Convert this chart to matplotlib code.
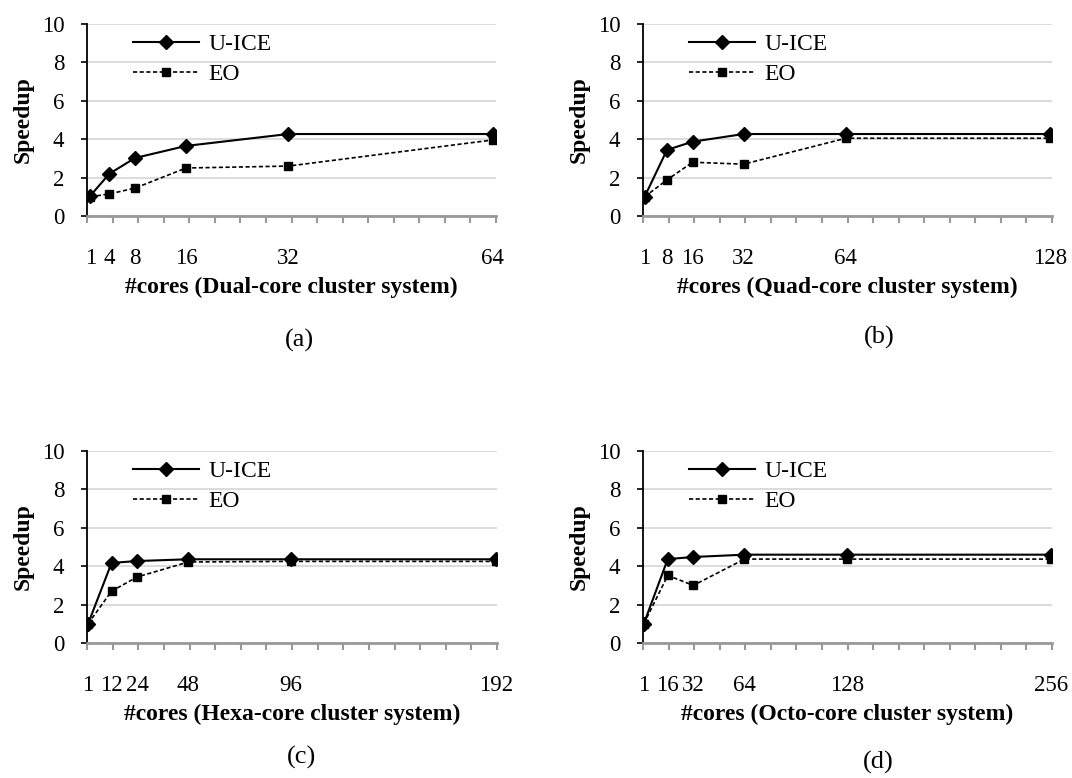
import numpy as np
import matplotlib
matplotlib.use('Agg')
import matplotlib.pyplot as plt

plt.rcParams['font.family'] = ['Liberation Serif', 'DejaVu Serif']

# speedup data
cores_a = [1, 4, 8, 16, 32, 64]
uice_a = [1.05, 2.2, 3.02, 3.65, 4.27, 4.27]
eo_a = [1.0, 1.15, 1.45, 2.5, 2.6, 3.96]

cores_b = [1, 8, 16, 32, 64, 128]
uice_b = [1.0, 3.44, 3.87, 4.27, 4.27, 4.27]
eo_b = [1.0, 1.88, 2.8, 2.7, 4.05, 4.05]

cores_c = [1, 12, 24, 48, 96, 192]
uice_c = [1.0, 4.17, 4.27, 4.36, 4.36, 4.36]
eo_c = [1.0, 2.7, 3.44, 4.22, 4.25, 4.25]

cores_d = [1, 16, 32, 64, 128, 256]
uice_d = [1.0, 4.37, 4.48, 4.6, 4.6, 4.6]
eo_d = [1.0, 3.52, 3.0, 4.37, 4.37, 4.37]

xlabels = ['#cores (Dual-core cluster system)',
           '#cores (Quad-core cluster system)',
           '#cores (Hexa-core cluster system)',
           '#cores (Octo-core cluster system)']
captions = ['(a)', '(b)', '(c)', '(d)']

fig = plt.figure(figsize=(10.72, 7.78), dpi=100)
W, H = 1072, 778

# axes boxes in pixels: left, top, right, bottom
boxes = [(87, 24, 496, 216), (643, 24, 1052, 216),
         (87, 451, 497, 643), (643, 451, 1052, 643)]
cap_pos = [(0.52, -0.646), (0.577, -0.63), (0.523, -0.594), (0.575, -0.62)]

panels = [(cores_a, uice_a, eo_a), (cores_b, uice_b, eo_b),
          (cores_c, uice_c, eo_c), (cores_d, uice_d, eo_d)]

for i, (cores, uice, eo) in enumerate(panels):
    l, t, r, b = boxes[i]
    ax = fig.add_axes([l / W, 1 - b / H, (r - l) / W, (b - t) / H])

    ax.plot(cores, uice, '-', color='black', lw=1.5, marker='D', ms=7.5,
            label='U-ICE', zorder=4)
    ax.plot(cores, eo, '--', color='black', lw=1.2, marker='s', ms=6,
            dashes=(2.5, 1.5), label='EO', zorder=3)

    x0, x1 = 0.5, cores[-1] + 0.5
    ax.set_xlim(x0, x1)
    ax.set_ylim(0, 10)
    ax.set_yticks([0, 2, 4, 6, 8, 10])
    ax.yaxis.grid(True, color='#d9d9d9', lw=1.3)
    ax.set_axisbelow(True)

    ax.set_xticks(cores)
    ax.set_xticklabels([str(c) for c in cores])
    ax.set_xticks(np.linspace(x0, x1, 17), minor=True)
    ax.tick_params(axis='x', which='major', length=0, pad=23, labelsize=16.5)
    ax.tick_params(axis='x', which='minor', length=5, direction='out',
                   color='#999999', width=1.5)
    ax.tick_params(axis='y', length=4.3, width=1.2, pad=12, labelsize=16.5)

    for s in ['top', 'right']:
        ax.spines[s].set_visible(False)
    ax.spines['left'].set_color('black')
    ax.spines['left'].set_linewidth(1.3)
    ax.spines['bottom'].set_color('#999999')
    ax.spines['bottom'].set_linewidth(2)

    ax.text(-0.156, 0.5, 'Speedup', transform=ax.transAxes, rotation=90,
            ha='center', va='center', fontsize=17, fontweight='bold')
    ax.text(0.5, -0.37, xlabels[i], transform=ax.transAxes,
            ha='center', va='center', fontsize=17, fontweight='bold')
    ax.text(cap_pos[i][0], cap_pos[i][1], captions[i], transform=ax.transAxes,
            ha='center', va='center', fontsize=19)

    ax.legend(loc='upper left', bbox_to_anchor=(0.112, 0.949), frameon=False,
              fontsize=17, handlelength=2.8, handletextpad=0.4,
              labelspacing=0.36, borderaxespad=0, borderpad=0)

fig.savefig('out.png', dpi=100)
